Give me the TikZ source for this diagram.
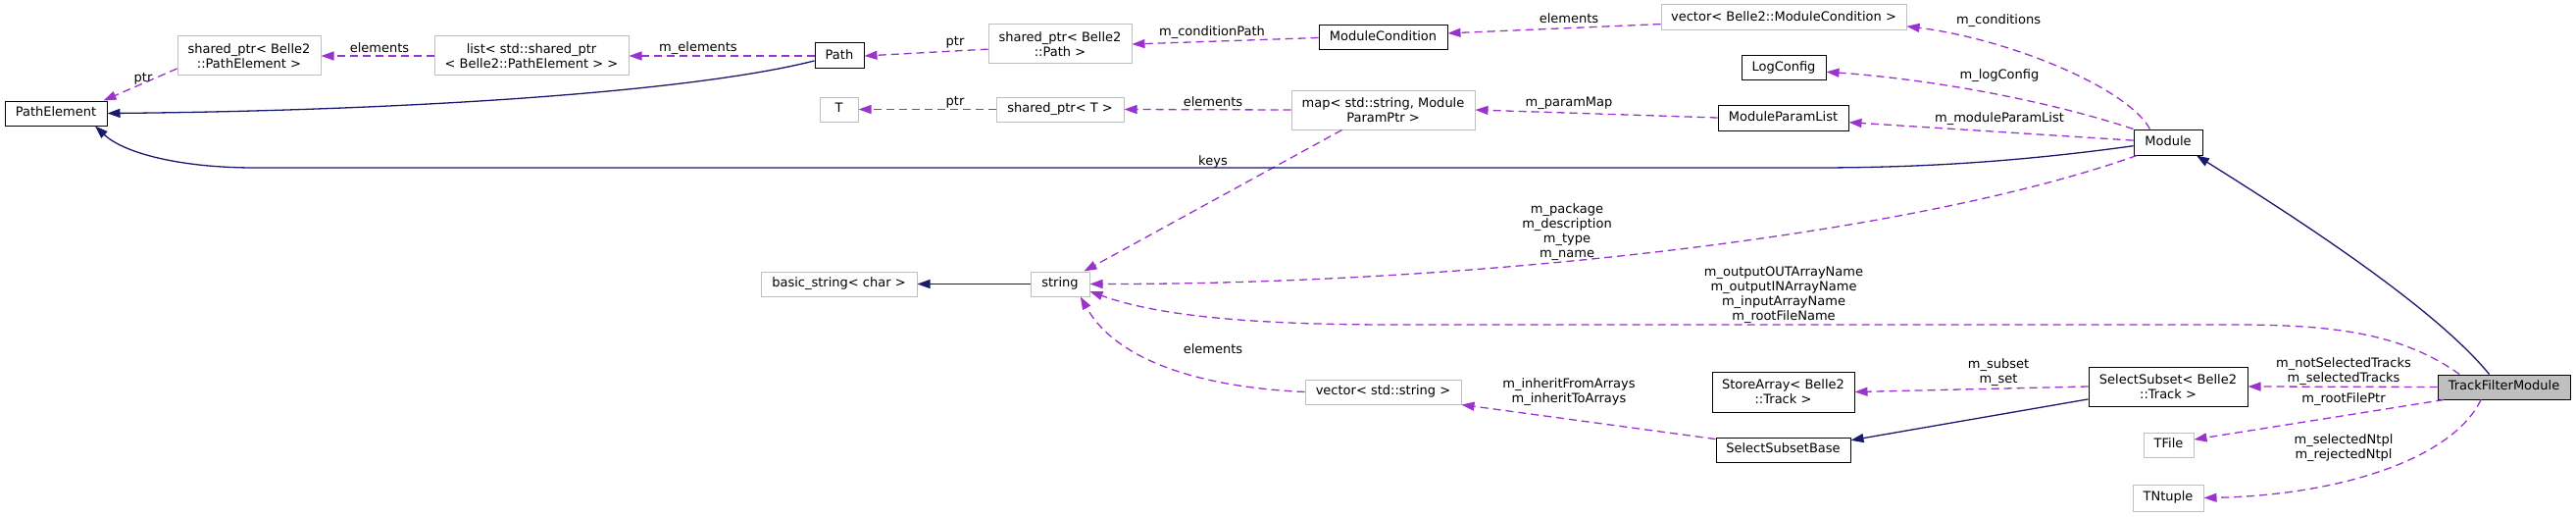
\documentclass[tikz,border=0pt]{standalone}
\usepackage{fontspec}
\setmainfont{DejaVu Sans}
\usetikzlibrary{arrows.meta}
\definecolor{usecol}{HTML}{9A32CD}
\definecolor{inhcol}{HTML}{191970}
\definecolor{extgray}{HTML}{BFBFBF}
\begin{document}
\begin{tikzpicture}[x=1pt,y=-1pt,
  font=\fontsize{13}{15}\selectfont,
  docbox/.style={draw=black,line width=1pt,fill=white,align=center,inner sep=0pt,minimum height=25pt},
  extbox/.style={draw=extgray,line width=1pt,fill=white,align=center,inner sep=0pt,minimum height=25pt},
  oneline/.style={text height=9.5pt,text depth=2.8pt},
  lbl/.style={inner sep=0pt,align=center},
  usage/.style={draw=usecol,line width=1.3pt,dash pattern=on 8pt off 5pt,-{Triangle[length=13pt,width=9pt]}},
  inherit/.style={draw=inhcol,line width=1.3pt,-{Triangle[length=13pt,width=9pt]}}]
\useasboundingbox (0,0) rectangle (2627,527);

% nodes
\node[docbox,oneline,minimum width=104pt] (PathElement) at (57,115.5) {PathElement};
\node[extbox,minimum width=146pt,minimum height=40pt] (sppe) at (254,57) {shared\_ptr< Belle2\\::PathElement >};
\node[extbox,minimum width=198pt,minimum height=40pt] (lst) at (542,57) {list< std::shared\_ptr\\< Belle2::PathElement > >};
\node[docbox,oneline,minimum width=50pt,minimum height=26pt] (Path) at (856,57) {Path};
\node[extbox,oneline,minimum width=39pt] (T) at (855.5,111.5) {T};
\node[extbox,minimum width=146pt,minimum height=40pt] (sppath) at (1081,45) {shared\_ptr< Belle2\\::Path >};
\node[docbox,oneline,minimum width=131pt] (ModCond) at (1410.5,38.5) {ModuleCondition};
\node[extbox,oneline,minimum width=130pt] (spT) at (1081,111.5) {shared\_ptr< T >};
\node[extbox,minimum width=187pt,minimum height=40pt] (map) at (1410.5,112) {map< std::string, Module\\ParamPtr >};
\node[extbox,oneline,minimum width=250pt,minimum height=26pt] (vecmc) at (1819,18) {vector< Belle2::ModuleCondition >};
\node[docbox,oneline,minimum width=86pt] (LogConfig) at (1819,69.5) {LogConfig};
\node[docbox,oneline,minimum width=133pt,minimum height=26pt] (MPL) at (1818.5,120) {ModuleParamList};
\node[docbox,oneline,minimum width=70pt,minimum height=26pt] (Module) at (2211,145) {Module};
\node[extbox,oneline,minimum width=159pt] (bstr) at (855.5,289.5) {basic\_string< char >};
\node[extbox,oneline,minimum width=60pt] (string) at (1081,289.5) {string};
\node[extbox,oneline,minimum width=159pt] (vecstr) at (1410.5,399.5) {vector< std::string >};
\node[docbox,minimum width=145pt,minimum height=41pt] (SA) at (1818.5,399.5) {StoreArray< Belle2\\::Track >};
\node[docbox,minimum width=162pt,minimum height=40pt] (SS) at (2211,394) {SelectSubset< Belle2\\::Track >};
\node[docbox,oneline,fill=extgray,minimum width=135pt] (TFM) at (2553.5,394.5) {TrackFilterModule};
\node[docbox,oneline,minimum width=137pt] (SSB) at (1818.5,458.5) {SelectSubsetBase};
\node[extbox,oneline,minimum width=51pt] (TFile) at (2211.5,453.5) {TFile};
\node[extbox,oneline,minimum width=72pt,minimum height=27pt] (TNtuple) at (2211,507.5) {TNtuple};

% edges
\draw[usage] (sppe.190) -- (PathElement.15);
\draw[usage] (lst.west) -- (sppe.east);
\draw[usage] (Path.west) -- (lst.east);
\draw[inherit] (Path.191) .. controls (700,95) and (400,113) .. (PathElement.east);
\draw[usage] (sppath.184) -- (Path.east);
\draw[usage] (ModCond.west) -- (sppath.east);
\draw[usage] (vecmc.183) -- (ModCond.4);
\draw[usage] (Module.144) .. controls (2170,90) and (2050,40) .. (vecmc.-4);
\draw[usage] (Module.north west) .. controls (2080,100) and (1960,80) .. (LogConfig.-5);
\draw[usage] (Module.177) -- (MPL.-4);
\draw[usage] (MPL.west) -- (map.east);
\draw[usage] (map.west) -- (spT.east);
\draw[usage] (spT.west) -- (T.east);
\draw[usage] (map.206) -- (string.28);
\coordinate (ib1) at (1850,171);
\coordinate (ib2) at (260,171);
\draw[inherit] (Module.186) .. controls (2050,166) and (1950,171) .. (ib1) -- (ib2) .. controls (180,171) and (125,155) .. (PathElement.-18);
\draw[usage] (Module.203) .. controls (1950,240) and (1500,290) .. (string.east);
\coordinate (ob1) at (2280,331);
\coordinate (ob2) at (1420,331);
\draw[usage] (TFM.164) .. controls (2450,340) and (2380,331) .. (ob1) -- (ob2) .. controls (1250,331) and (1170,318) .. (string.-14);
\draw[usage] (vecstr.west) .. controls (1230,395) and (1140,370) .. (string.-32);
\draw[inherit] (string.west) -- (bstr.east);
\draw[inherit] (TFM.139) .. controls (2480,310) and (2330,215) .. (Module.-25);
\draw[usage] (TFM.west) -- (SS.east);
\draw[usage] (SS.west) -- (SA.east);
\draw[inherit] (SS.189) -- (SSB.8);
\draw[usage] (SSB.171) -- (vecstr.south east);
\draw[usage] (TFM.192) -- (TFile.12);
\draw[usage] (TFM.209) .. controls (2500,470) and (2380,505) .. (TNtuple.east);

% labels
\node[lbl] (l1) at (146,80) {ptr};
\node[lbl] (l2) at (387,49) {elements};
\node[lbl] (l3) at (712,49) {m\_elements};
\node[lbl] (l4) at (974,43) {ptr};
\node[lbl] (l5) at (1236,33) {m\_conditionPath};
\node[lbl] (l6) at (1600,19) {elements};
\node[lbl] (l7) at (2038,21) {m\_conditions};
\node[lbl] (l8) at (2039,77) {m\_logConfig};
\node[lbl] (l9) at (2039,121) {m\_moduleParamList};
\node[lbl] (l10) at (1600,105) {m\_paramMap};
\node[lbl] (l11) at (1237,104) {elements};
\node[lbl] (l12) at (974,104) {ptr};
\node[lbl] (l13) at (1237,165) {keys};
\node[lbl] (l14) at (1598,237) {m\_package\\m\_description\\m\_type\\m\_name};
\node[lbl] (l15) at (1819,301) {m\_outputOUTArrayName\\m\_outputINArrayName\\m\_inputArrayName\\m\_rootFileName};
\node[lbl] (l16) at (1237,356) {elements};
\node[lbl] (l17) at (2038,380) {m\_subset\\m\_set};
\node[lbl] (l18) at (1600,400) {m\_inheritFromArrays\\m\_inheritToArrays};
\node[lbl] (l19) at (2390,379) {m\_notSelectedTracks\\m\_selectedTracks};
\node[lbl] (l20) at (2390,407) {m\_rootFilePtr};
\node[lbl] (l21) at (2390,457) {m\_selectedNtpl\\m\_rejectedNtpl};
\end{tikzpicture}
\end{document}
